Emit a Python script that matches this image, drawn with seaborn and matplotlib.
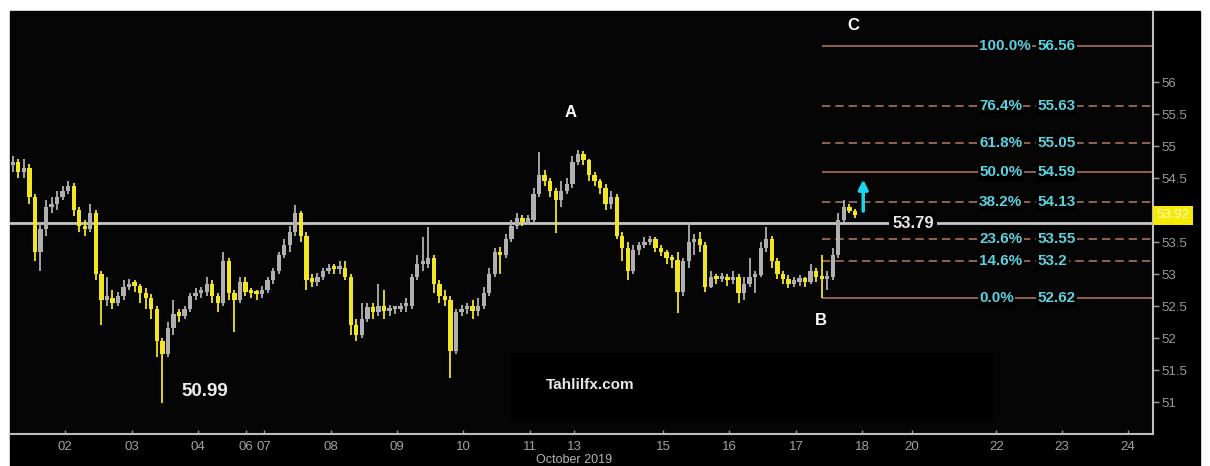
import matplotlib
matplotlib.use("Agg")
import matplotlib.pyplot as plt
import matplotlib.transforms as mtransforms
from matplotlib.patches import Rectangle
import seaborn as sns
import numpy as np
import pandas as pd

# 2-hour candles, Oct 1 -> Oct 17 2019
first_open = 54.70
closes = [
    54.75, 54.60, 54.65, 54.20, 53.35, 53.70, 54.05, 54.10, 54.20, 54.30,
    54.38, 54.00, 53.75, 53.70, 53.95, 53.00, 52.60, 52.62, 52.55, 52.65,
    52.80, 52.85, 52.82, 52.70, 52.62, 52.45, 51.95, 51.75, 52.15, 52.38,
    52.35, 52.45, 52.65, 52.70, 52.72, 52.85, 52.65, 52.55, 53.20, 52.70,
    52.60, 52.88, 52.72, 52.70, 52.68, 52.75, 52.90, 53.05, 53.30, 53.45,
    53.65, 53.95, 53.60, 52.90, 52.88, 52.95, 53.05, 53.10, 53.08, 53.10,
    52.95, 52.20, 52.05, 52.30, 52.48, 52.40, 52.50, 52.42, 52.45, 52.45,
    52.50, 52.50, 52.95, 53.15, 53.15, 53.25, 52.85, 52.65, 52.60, 51.80,
    52.40, 52.45, 52.50, 52.42, 52.50, 52.70, 53.00, 53.35, 53.30, 53.55,
    53.75, 53.88, 53.82, 53.85, 54.25, 54.55, 54.45, 54.30, 54.15, 54.30,
    54.40, 54.75, 54.88, 54.78, 54.55, 54.45, 54.35, 54.10, 54.20, 53.60,
    53.40, 53.05, 53.38, 53.45, 53.50, 53.55, 53.40, 53.35, 53.25, 53.22,
    52.72, 53.20, 53.50, 53.55, 53.45, 52.80, 52.95, 52.92, 52.95, 52.90,
    52.95, 52.70, 52.85, 52.95, 52.98, 53.40, 53.55, 53.20, 53.00, 52.92,
    52.85, 52.88, 52.90, 52.88, 53.05, 52.95, 52.92, 52.95, 53.30, 53.85,
    54.05, 53.98, 53.92,
]
highs = [
    54.85, 54.80, 54.80, 54.72, 54.25, 53.80, 54.15, 54.20, 54.30, 54.38,
    54.45, 54.42, 54.05, 53.85, 54.10, 54.00, 53.05, 52.95, 52.75, 52.72,
    52.90, 52.92, 52.90, 52.85, 52.78, 52.68, 52.50, 52.00, 52.25, 52.60,
    52.45, 52.50, 52.70, 52.78, 52.80, 52.95, 52.90, 52.70, 53.35, 53.25,
    52.75, 52.95, 52.95, 52.78, 52.75, 52.82, 52.95, 53.10, 53.35, 53.55,
    53.75, 54.08, 53.98, 53.65, 53.00, 53.02, 53.10, 53.15, 53.15, 53.20,
    53.20, 53.00, 52.30, 52.55, 52.55, 52.55, 52.85, 52.75, 52.52, 52.50,
    52.55, 52.62, 53.00, 53.30, 53.58, 53.73, 53.30, 52.90, 52.75, 52.65,
    52.45, 52.52, 52.55, 52.60, 52.62, 52.80, 53.10, 53.40, 53.42, 53.62,
    53.85, 53.95, 53.92, 53.92, 54.35, 54.90, 54.62, 54.50, 54.35, 54.45,
    54.50, 54.85, 54.94, 54.92, 54.80, 54.60, 54.48, 54.40, 54.30, 54.25,
    53.65, 53.50, 53.45, 53.50, 53.58, 53.60, 53.58, 53.45, 53.38, 53.30,
    53.35, 53.25, 53.80, 53.62, 53.65, 53.50, 53.05, 53.00, 53.02, 53.00,
    53.05, 53.00, 52.95, 53.25, 53.05, 53.50, 53.73, 53.60, 53.25, 53.05,
    52.98, 52.95, 52.98, 52.95, 53.15, 53.10, 53.30, 53.05, 53.40, 53.95,
    54.16, 54.10, 54.02,
]
lows = [
    54.60, 54.50, 54.50, 54.10, 53.20, 53.05, 53.60, 53.95, 54.00, 54.15,
    54.25, 53.90, 53.65, 53.60, 53.65, 52.90, 52.20, 52.50, 52.45, 52.50,
    52.60, 52.75, 52.72, 52.55, 52.45, 52.30, 51.70, 50.99, 51.70, 52.05,
    52.25, 52.30, 52.40, 52.60, 52.62, 52.65, 52.55, 52.40, 52.50, 52.60,
    52.10, 52.55, 52.65, 52.62, 52.60, 52.62, 52.70, 52.85, 53.00, 53.25,
    53.35, 53.60, 53.50, 52.75, 52.80, 52.82, 52.90, 53.00, 53.00, 53.00,
    52.90, 52.05, 51.95, 52.00, 52.25, 52.30, 52.35, 52.30, 52.35, 52.38,
    52.40, 52.40, 52.45, 52.90, 53.05, 53.10, 52.70, 52.55, 52.50, 51.38,
    51.75, 52.35, 52.38, 52.30, 52.35, 52.45, 52.65, 52.95, 53.00, 53.25,
    53.50, 53.70, 53.75, 53.78, 53.80, 54.20, 54.38, 54.20, 53.64, 54.05,
    54.25, 54.35, 54.70, 54.70, 54.45, 54.38, 54.25, 54.00, 54.02, 53.55,
    53.20, 52.90, 53.00, 53.30, 53.40, 53.45, 53.35, 53.28, 53.15, 53.10,
    52.39, 52.65, 53.10, 53.30, 53.35, 52.72, 52.78, 52.85, 52.88, 52.82,
    52.85, 52.55, 52.60, 52.80, 52.70, 52.95, 53.35, 53.10, 52.92, 52.85,
    52.78, 52.80, 52.82, 52.80, 52.85, 52.88, 52.62, 52.75, 52.90, 53.25,
    53.80, 53.95, 53.88,
]

fib_pcts = ["0.0%", "14.6%", "23.6%", "38.2%", "50.0%", "61.8%", "76.4%", "100.0%"]
fib_levels = [52.62, 53.2, 53.55, 54.13, 54.59, 55.05, 55.63, 56.56]
fib_dashed = [False, True, True, True, False, True, True, False]

day_labels = ["02", "03", "04", "06", "07", "08", "09", "10", "11", "13",
              "15", "16", "17", "18", "20", "22", "23", "24"]
day_ticks = [9.4, 21.5, 33.4, 42.1, 45.3, 57.4, 69.3, 81.3, 93.4, 101.3,
             117.4, 129.3, 141.4, 153.3, 162.3, 177.5, 189.4, 201.3]

ref_price = 53.79
last_price = 53.92
low_price = 50.99

df = pd.DataFrame({"close": closes, "high": highs, "low": lows})
df["open"] = [first_open] + closes[:-1]
df["bar"] = np.arange(len(df))
df["down"] = df["close"] < df["open"]

YELLOW = "#f2e524"
GREY = "#b0b0b0"
CYAN = "#5ad2e0"
FIB = "#a8735c"

sns.set_theme(style="dark", rc={"axes.facecolor": "#050505",
                                "figure.facecolor": "white"})
plt.rcParams["font.family"] = ["Liberation Sans", "DejaVu Sans"]

fig = plt.figure(figsize=(12.1, 4.66), dpi=100)
fig.patches.append(Rectangle((10 / 1210, 0), 1190 / 1210, 455 / 466,
                             transform=fig.transFigure, color="black", zorder=-5))
ax = fig.add_axes([10 / 1210, 32 / 466, 1143 / 1210, 423 / 466])
ax.set_xlim(-0.5, 205.8)
ax.set_ylim(50.5, 57.11)

# darker watermark panel
ax.add_patch(Rectangle((90, 50.72), 87, 1.05, color="black", zorder=0, lw=0))

colors = np.where(df["down"], YELLOW, GREY)
ax.vlines(df["bar"], df["low"], df["high"], colors=colors, lw=1.3, zorder=3)
body_lo = np.minimum(df["open"], df["close"])
body_h = np.maximum((df["close"] - df["open"]).abs(), 0.05)
ax.bar(df["bar"], body_h, bottom=body_lo, width=0.78, color=colors, lw=0, zorder=3)

# reference line 53.79
ax.axhline(ref_price, color="#c8c8c8", lw=2, zorder=2)
ax.text(162.5, ref_price, f"{ref_price:.2f}", color="#e6e6e6", fontsize=12,
        fontweight="bold", ha="center", va="center", zorder=5,
        bbox=dict(facecolor="black", edgecolor="none", pad=2))

# fibonacci levels
for pct, lvl, dashed in zip(fib_pcts, fib_levels, fib_dashed):
    ax.hlines(lvl, 146, 205.8, colors=FIB, lw=1.2,
              linestyles=(0, (5, 3)) if dashed else "solid", zorder=2)
    ax.text(174.4, lvl, pct, color=CYAN, fontsize=11, fontweight="bold",
            ha="left", va="center", zorder=5,
            bbox=dict(facecolor="black", edgecolor="none", pad=1))
    ax.text(185.0, lvl, f"{lvl:g}", color=CYAN, fontsize=11, fontweight="bold",
            ha="left", va="center", zorder=5,
            bbox=dict(facecolor="black", edgecolor="none", pad=1))

ax.annotate("", xy=(153.5, 54.52), xytext=(153.5, 53.94),
            arrowprops=dict(arrowstyle="-|>", color="#19d6ea", lw=2.5,
                            mutation_scale=14), zorder=6)

for label, x, y in [("A", 100.6, 55.52), ("B", 145.9, 52.28), ("C", 151.7, 56.89)]:
    ax.text(x, y, label, color="white", fontsize=12, fontweight="bold",
            ha="center", va="center", zorder=5)
ax.text(34.7, 51.17, f"{low_price:.2f}", color="#eeeeee", fontsize=13.5,
        fontweight="bold", ha="center", va="center", zorder=5)
ax.text(104.2, 51.27, "Tahlilfx.com", color="#e8e8e8", fontsize=11,
        fontweight="bold", ha="center", va="center", zorder=5)

# axes styling
for side in ["top", "left"]:
    ax.spines[side].set_visible(False)
for side in ["right", "bottom"]:
    ax.spines[side].set_color("#bdbdbd")
    ax.spines[side].set_linewidth(1.5)
ax.grid(False)

yt = np.arange(51, 56.01, 0.5)
ax.yaxis.tick_right()
ax.set_yticks(yt)
ax.set_yticklabels([f"{v:g}" for v in yt])
ax.tick_params(axis="y", colors="#9a9a9a", labelsize=9.5, length=4,
               width=1, direction="out", pad=2, right=True)
ax.set_xticks(day_ticks)
ax.set_xticklabels(day_labels)
ax.tick_params(axis="x", colors="#9a9a9a", labelsize=9.5, length=3,
               width=1, direction="in", pad=5, bottom=True)
for t in ax.get_xticklabels():
    t.set_color("#a0a0a0")
ax.text(101.3, -0.062, "October 2019", transform=mtransforms.blended_transform_factory(
    ax.transData, ax.transAxes), color="#b4b4b4", fontsize=9, ha="center", va="center")

# last price tag on the price axis
ax.text(1.003, last_price, f"{last_price:.2f}", color="#fffbd0", fontsize=9.5,
        ha="left", va="center", zorder=6, clip_on=False,
        transform=mtransforms.blended_transform_factory(ax.transAxes, ax.transData),
        bbox=dict(facecolor="#f5ea00", edgecolor="none", pad=2.5))

fig.savefig("out.png", dpi=100, facecolor="white")
